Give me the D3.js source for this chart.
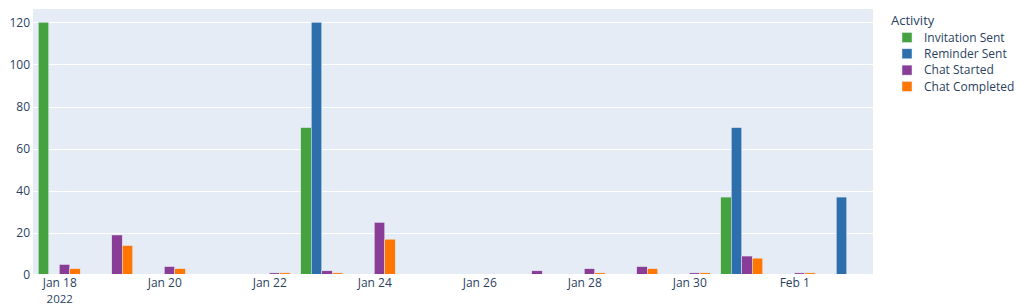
<!DOCTYPE html>
<html>
<head>
<meta charset="utf-8">
<script src="https://cdn.jsdelivr.net/npm/d3@7"></script>
<style>
html,body{margin:0;padding:0;background:#fff;}
svg{display:block;font-family:"Open Sans",sans-serif;}
</style>
</head>
<body>
<svg id="chart" width="1024" height="305"></svg>
<script>
const dates = ["2022-01-18","2022-01-19","2022-01-20","2022-01-21","2022-01-22","2022-01-23","2022-01-24","2022-01-25","2022-01-26","2022-01-27","2022-01-28","2022-01-29","2022-01-30","2022-01-31","2022-02-01","2022-02-02"];
const seriesNames = ["Invitation Sent","Reminder Sent","Chat Started","Chat Completed"];
const invitationSent = [120,0,0,0,0,70,0,0,0,0,0,0,0,37,0,0];
const reminderSent   = [0,0,0,0,0,120,0,0,0,0,0,0,0,70,0,37];
const chatStarted    = [5,19,4,0,1,2,25,0,0,2,3,4,1,9,1,0];
const chatCompleted  = [3,14,3,0,1,1,17,0,0,0,1,3,1,8,1,0];
const seriesColors = ["#45a33f","#2d6fad","#8a3d96","#ff7600"];
const yTicks = [0,20,40,60,80,100,120];
const xTickDates = ["2022-01-18","2022-01-20","2022-01-22","2022-01-24","2022-01-26","2022-01-28","2022-01-30","2022-02-01"];
const xTickLabels = ["Jan 18","Jan 20","Jan 22","Jan 24","Jan 26","Jan 28","Jan 30","Feb 1"];
const xTickSub = ["2022","","","","","","",""];
const legendTitle = "Activity";

const allSeries = [invitationSent, reminderSent, chatStarted, chatCompleted];
const svg = d3.select("#chart");
const L = 33, R = 873, T = 9, B = 275;
const textColor = "#2a3f5f";
const parse = d => new Date(d + "T00:00:00Z");
const day = 86400000;

const x = d3.scaleUtc()
  .domain([new Date(parse(dates[0]).getTime() - day/2), new Date(parse(dates[dates.length-1]).getTime() + day/2)])
  .range([L, R]);
const y = d3.scaleLinear().domain([0, 126.3]).range([B, T]);

svg.append("rect").attr("x", L).attr("y", T).attr("width", R - L).attr("height", B - T).attr("fill", "#e5ecf6");

// grid
svg.append("g").selectAll("line").data(yTicks.filter(v => v > 0)).join("line")
  .attr("x1", L).attr("x2", R)
  .attr("y1", d => Math.round(y(d)) + 0.5).attr("y2", d => Math.round(y(d)) + 0.5)
  .attr("stroke", "#fff").attr("stroke-width", 1);

// bars
const dayW = x(parse(dates[1])) - x(parse(dates[0]));
const groupW = dayW * 0.8;
const barW = groupW / allSeries.length;
allSeries.forEach((vals, si) => {
  svg.append("g").selectAll("rect").data(vals.map((v, i) => ({v, d: dates[i]})).filter(o => o.v > 0)).join("rect")
    .attr("x", o => x(parse(o.d)) - groupW/2 + si*barW)
    .attr("width", barW)
    .attr("y", o => y(o.v))
    .attr("height", o => y(0) - y(o.v))
    .attr("fill", seriesColors[si])
    .attr("stroke", "#e5ecf6").attr("stroke-width", 0.5);
});

// zero line
svg.append("line").attr("x1", L).attr("x2", R).attr("y1", B).attr("y2", B).attr("stroke", "#fff").attr("stroke-width", 2);

// y axis labels
const yAxis = d3.axisLeft(y).tickValues(yTicks).tickSize(0).tickPadding(3);
const ya = svg.append("g").attr("transform", `translate(${L},0)`).call(yAxis);
ya.select(".domain").remove();
ya.selectAll("text").attr("fill", textColor).style("font-size", "12px").style("font-family", "'Open Sans', sans-serif");

// x axis labels
const xAxis = d3.axisBottom(x).tickValues(xTickDates.map(parse)).tickSize(0).tickPadding(3)
  .tickFormat((d, i) => xTickLabels[i]);
const xa = svg.append("g").attr("transform", `translate(0,${B})`).call(xAxis);
xa.select(".domain").remove();
xa.selectAll("text").attr("fill", textColor).style("font-size", "12px").style("font-family", "'Open Sans', sans-serif");
xa.selectAll(".tick").each(function(d, i) {
  if (xTickSub[i]) {
    d3.select(this).append("text").attr("y", 27.5).attr("text-anchor", "middle")
      .attr("fill", textColor).style("font-size", "11.5px").style("font-family", "'Open Sans', sans-serif")
      .text(xTickSub[i]);
  }
});

// legend
const lg = svg.append("g");
lg.append("text").attr("x", 891).attr("y", 25).attr("fill", textColor).style("font-size", "13px").text(legendTitle);
seriesNames.forEach((n, i) => {
  const cy = 37.5 + i * 16.3;
  lg.append("rect").attr("x", 902).attr("y", cy - 5).attr("width", 10).attr("height", 10)
    .attr("fill", seriesColors[i]).attr("stroke", "#e5ecf6").attr("stroke-width", 0.5);
  lg.append("text").attr("x", 924).attr("y", cy + 4.2).attr("fill", textColor).style("font-size", "12px").text(n);
});
</script>
</body>
</html>
